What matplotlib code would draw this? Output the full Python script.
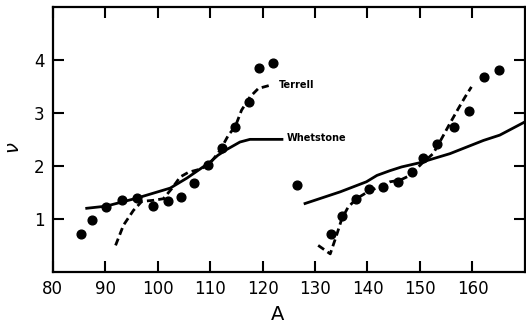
import matplotlib
matplotlib.use('Agg')
import matplotlib.pyplot as plt

# measured points (dots)
A_exp = [85.4, 87.6, 90.2, 93.2, 96.0, 99.2, 101.9, 104.5, 107.0, 109.7, 112.2,
         114.7, 117.4, 119.4, 121.9, 126.6, 133.0, 135.1, 137.8, 140.3, 143.0,
         145.9, 148.5, 150.6, 153.3, 156.4, 159.4, 162.2, 165.0]
nu_exp = [0.72, 0.97, 1.23, 1.35, 1.39, 1.25, 1.33, 1.41, 1.68, 2.01, 2.33,
          2.74, 3.20, 3.84, 3.95, 1.64, 0.72, 1.05, 1.37, 1.57, 1.61,
          1.70, 1.89, 2.14, 2.42, 2.74, 3.03, 3.68, 3.81]

# Terrell (dashed), light and heavy fragment groups
A_ter_l = [92.0, 93.5, 95.4, 97.0, 99.2, 101.1, 102.7, 104.3, 105.9, 107.8,
           109.7, 111.9, 113.5, 114.8, 116.0, 117.6, 119.2, 121.4]
nu_ter_l = [0.50, 0.88, 1.16, 1.33, 1.35, 1.38, 1.57, 1.79, 1.88, 1.93,
            2.01, 2.29, 2.58, 2.74, 3.05, 3.30, 3.46, 3.52]
A_ter_r = [130.6, 132.9, 134.1, 135.1, 136.3, 137.9, 140.2, 142.4, 144.3,
           146.2, 148.1, 150.3, 152.5, 154.1, 155.7, 157.3, 158.6, 159.8]
nu_ter_r = [0.50, 0.34, 0.69, 1.00, 1.22, 1.38, 1.52, 1.61, 1.70,
            1.73, 1.82, 2.04, 2.23, 2.51, 2.80, 3.08, 3.30, 3.49]

# Whetstone (solid)
A_whe_l = [86.5, 90.2, 96.0, 102.4, 105.6, 110.0, 111.5, 113.2, 115.7, 117.6, 120.8, 123.7]
nu_whe_l = [1.20, 1.24, 1.39, 1.58, 1.77, 2.07, 2.20, 2.31, 2.45, 2.50, 2.50, 2.50]
A_whe_r = [128.1, 134.8, 139.8, 141.8, 144.3, 146.5, 150.0, 153.0, 155.7, 162.1, 165.2, 170.0]
nu_whe_r = [1.29, 1.51, 1.70, 1.82, 1.91, 1.98, 2.06, 2.15, 2.23, 2.48, 2.58, 2.83]

xticks = [80, 90, 100, 110, 120, 130, 140, 150, 160]
yticks = [1, 2, 3, 4]

fig = plt.figure(figsize=(5.26, 3.26), dpi=100)
ax = fig.add_axes([0.1, 0.166, 0.898, 0.813])

ax.plot(A_exp, nu_exp, 'o', color='black', markersize=6.3)
for a, n in [(A_ter_l, nu_ter_l), (A_ter_r, nu_ter_r)]:
    ax.plot(a, n, color='black', lw=2.0, dashes=(2.6, 1.5))
for a, n in [(A_whe_l, nu_whe_l), (A_whe_r, nu_whe_r)]:
    ax.plot(a, n, color='black', lw=2.0)

# curve names
ax.text(123.1, 3.52, 'Terrell', fontsize=7, fontweight='bold', ha='left', va='center')
ax.text(124.7, 2.53, 'Whetstone', fontsize=7, fontweight='bold', ha='left', va='center')

ax.set_xlim(80, 170)
ax.set_ylim(0, 5)
ax.set_xticks(xticks)
ax.set_yticks(yticks)
ax.tick_params(direction='in', length=8, width=1.5, labelsize=12,
               top=True, right=True, pad=6)
for s in ax.spines.values():
    s.set_linewidth(1.6)

ax.set_xlabel('A', fontsize=14)
ax.xaxis.set_label_coords(0.477, -0.125)
ax.set_ylabel(r'$\nu$', fontsize=14)
ax.yaxis.set_label_coords(-0.062, 0.47)

fig.savefig('out.png', dpi=100)
